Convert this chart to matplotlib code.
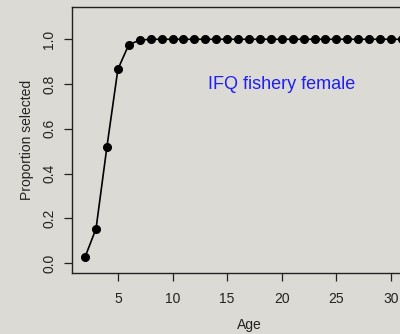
import matplotlib.pyplot as plt
import numpy as np

# Selectivity at age, IFQ fishery female
ages = np.arange(2, 33)
selected = [0.028, 0.154, 0.521, 0.866, 0.976, 0.996] + [1.0] * (len(ages) - 6)

x_ticks = [5, 10, 15, 20, 25, 30]
y_ticks = [0.0, 0.2, 0.4, 0.6, 0.8, 1.0]

plt.rcParams['font.family'] = ['Liberation Sans', 'DejaVu Sans']
bg = '#dcdad5'

fig = plt.figure(figsize=(4, 3.34), dpi=100, facecolor=bg)
# axes box runs past the right edge of the figure, as in the reference
ax = fig.add_axes([0.18, 0.1826, 0.885, 0.7964])
ax.set_facecolor(bg)

ax.plot(ages, selected, color='black', lw=1.2, marker='o', markersize=5.5)

ax.set_xlim(0.8, 33.2)
ax.set_ylim(-0.044, 1.144)
ax.set_xticks(x_ticks)
ax.set_yticks(y_ticks)
ax.set_yticklabels([f'{v:.1f}' for v in y_ticks], rotation=90, va='center')

ax.tick_params(axis='both', direction='out', length=5.5, width=0.9,
               labelsize=10, colors='#222222')
ax.tick_params(axis='x', pad=8)
ax.tick_params(axis='y', pad=6)
for s in ax.spines.values():
    s.set_color('#222222')
    s.set_linewidth(1.0)

ax.set_xlabel('Age', fontsize=10, color='#222222', labelpad=9)
ax.set_ylabel('Proportion selected', fontsize=10, color='#222222', labelpad=6)

ax.text(20, 0.80, 'IFQ fishery female', color='#1e1ef5', fontsize=13,
        ha='center', va='center')

plt.savefig('out.png', dpi=100, facecolor=bg)
